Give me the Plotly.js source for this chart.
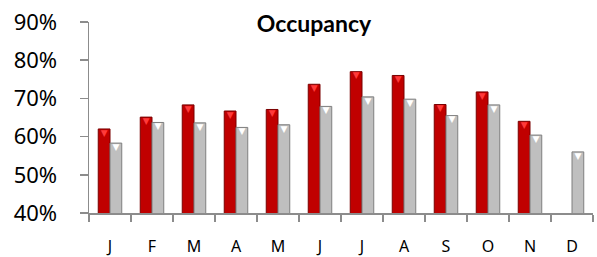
<!DOCTYPE html>
<html>
<head>
<meta charset="utf-8">
<script src="https://cdn.plot.ly/plotly-3.0.1.min.js"></script>
<style>html,body{margin:0;padding:0;background:#fff;}#chart{width:597px;height:257px;}</style>
</head>
<body>
<div id="chart"></div>
<script>
const months = ["J","F","M","A","M ","J ","J  ","A ","S","O","N","D"];
const monthLabels = ["J","F","M","A","M","J","J","A","S","O","N","D"];
const currentYear = [62, 65.1, 68.3, 66.7, 67.1, 73.7, 77.0, 76.0, 68.4, 71.7, 64.0, null];
const previousYear = [58.3, 63.7, 63.6, 62.4, 63.1, 67.9, 70.4, 69.8, 65.5, 68.3, 60.4, 56.0];
const yTicks = [40, 50, 60, 70, 80, 90];

const toFrac = a => a.map(v => v === null ? null : v / 100);

const traces = [
  {
    type: "bar", x: months, y: toFrac(currentYear), name: "Current",
    marker: {color: "#C00000", line: {color: "#7A0000", width: 1}},
    hoverinfo: "skip"
  },
  {
    type: "bar", x: months, y: toFrac(previousYear), name: "Previous",
    marker: {color: "#BFBFBF", line: {color: "#7F7F7F", width: 1}},
    hoverinfo: "skip"
  },
  {
    type: "scatter", mode: "text", x: months, y: toFrac(currentYear),
    text: currentYear.map(v => v === null ? "" : "▼"),
    textposition: "bottom center",
    textfont: {color: "#FF3A3A", size: 9, family: "DejaVu Sans"},
    hoverinfo: "skip"
  },
  {
    type: "scatter", mode: "text", x: months, y: toFrac(previousYear),
    text: previousYear.map(v => "▼"),
    textposition: "bottom center",
    textfont: {color: "#FFFFFF", size: 9, family: "DejaVu Sans"},
    hoverinfo: "skip"
  }
];

const layout = {
  width: 597, height: 257,
  margin: {l: 89, r: 4, t: 22, b: 44},
  paper_bgcolor: "#ffffff", plot_bgcolor: "#ffffff",
  showlegend: false,
  barmode: "group", bargap: 0.44, bargroupgap: 0,
  scattermode: "group", scattergap: 0.44,
  title: {
    text: "<b>Occupancy</b>",
    font: {family: "Lato, 'Open Sans', sans-serif", size: 23, color: "#000"},
    xref: "container", yref: "container", x: 0.526, y: 0.905,
    xanchor: "center", yanchor: "middle"
  },
  xaxis: {
    type: "category",
    tickmode: "array", tickvals: months, ticktext: monthLabels,
    showline: true, linecolor: "#8C8C8C", linewidth: 1.5,
    ticks: "outside", tickson: "boundaries", ticklen: 7, tickcolor: "#8C8C8C", tickwidth: 1.5,
    ticklabelstandoff: 18,
    tickfont: {family: "'Noto Sans', sans-serif", size: 16, color: "#000"},
    showgrid: false, zeroline: false, fixedrange: true
  },
  yaxis: {
    range: [0.40, 0.90],
    tickmode: "array", tickvals: yTicks.map(v => v / 100), ticktext: yTicks.map(v => v + "%"),
    showline: true, linecolor: "#8C8C8C", linewidth: 1.5,
    ticks: "outside", ticklen: 8, tickcolor: "#8C8C8C", tickwidth: 1.5,
    ticklabelstandoff: 18,
    tickfont: {family: "'Noto Sans', sans-serif", size: 22, color: "#000"},
    showgrid: false, zeroline: false, fixedrange: true
  }
};

Plotly.newPlot("chart", traces, layout, {staticPlot: true, displayModeBar: false});
</script>
</body>
</html>
